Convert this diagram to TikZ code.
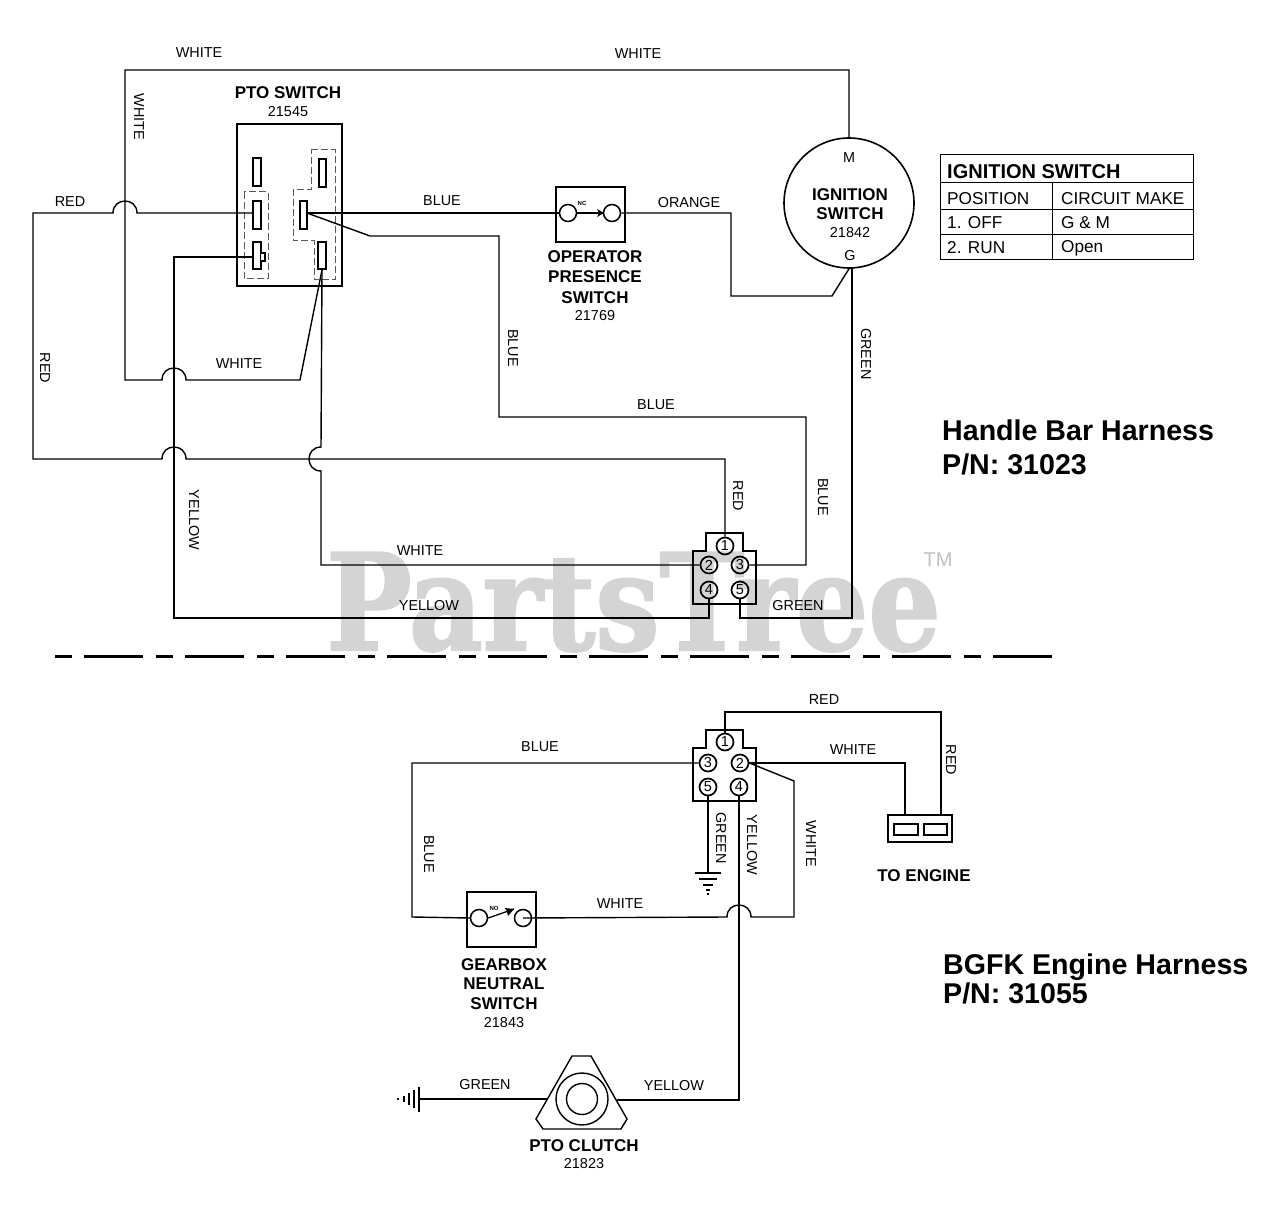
\documentclass[tikz,border=0pt]{standalone}
\usepackage{fontspec}
\setmainfont{Liberation Sans}
\newfontfamily\wmfont{DejaVu Serif}[FakeStretch=0.85,FakeBold=1.5]
\begin{document}
\begin{tikzpicture}[x=1pt,y=-1pt,
  txt/.style={inner sep=0pt,yshift=-1pt,font=\fontsize{14.4}{14.4}\selectfont,text=black},
  vtxt/.style={inner sep=0pt,xshift=1pt,font=\fontsize{14.4}{14.4}\selectfont,text=black,rotate=-90},
  boldt/.style={inner sep=0pt,yshift=-1pt,font=\fontsize{17}{17}\selectfont\bfseries,text=black},
  tabt/.style={inner sep=0pt,yshift=-1pt,anchor=west,font=\fontsize{17.2}{17.2}\selectfont,text=black},
  harness/.style={inner sep=0pt,anchor=base west,font=\fontsize{28.6}{28.6}\selectfont\bfseries},
  wire/.style={line width=1.4pt,line join=miter},
  box/.style={draw,line width=1.6pt,inner sep=0pt,rectangle},
  pin/.style={draw,line width=1.6pt,rectangle,inner sep=0pt,fill=white},
  pnum/.style={draw,circle,line width=1.7pt,minimum size=17pt,inner sep=0pt,font=\fontsize{14.5}{14.5}\selectfont},
  swc/.style={draw,circle,line width=1.5pt,minimum size=17pt,inner sep=0pt},
  dashb/.style={draw=black!65,line width=1pt,dash pattern=on 7pt off 3pt},
  sep/.style={line width=3pt,dash pattern=on 17pt off 12pt on 59pt off 13pt},
]
\useasboundingbox (0,0) rectangle (1280,1206);
% watermark
\node[inner sep=0pt,anchor=base west,text=black!17,font=\fontsize{134}{134}\selectfont\wmfont\bfseries] (wm) at (326,650) {PartsTree};
\node[inner sep=0pt,text=black!25,font=\fontsize{20}{20}\selectfont] (tm) at (938,560) {TM};

% PTO switch
\node[box,minimum width=105pt,minimum height=162pt] (pto) at (289.5,205) {};
\draw[dashb] (244,192) rectangle (268,279);
\draw[dashb] (311,150) -- (335,150) -- (335,280) -- (314,280) -- (314,241) -- (293,241) -- (293,190) -- (311,190) -- cycle;
\node[pin,minimum width=8pt,minimum height=28pt] (pa) at (257,172) {};
\node[pin,minimum width=8pt,minimum height=28pt] (pb) at (257,215) {};
\node[pin,minimum width=8pt,minimum height=27pt] (pc) at (257,255.5) {};
\draw[line width=1.6pt,fill=white] (261,253) -- (265,253) -- (265,261) -- (261,261);
\node[pin,minimum width=7pt,minimum height=28pt] (pd) at (322.5,173) {};
\node[pin,minimum width=7pt,minimum height=28pt] (pe) at (303.5,215) {};
\node[pin,minimum width=8pt,minimum height=27pt] (pf) at (322,255.5) {};
\coordinate (pew) at (307,213);

% operator presence switch
\node[box,minimum width=69pt,minimum height=55pt] (ops) at (590.5,214.5) {};
\node[swc] (opa) at (568,213) {};
\node[swc] (opb) at (612,213) {};
\draw[line width=1.3pt] (opa.east) -- (opb.west);
\fill (604,213) -- (597,209) -- (599,213) -- (597,217) -- cycle;
\node[inner sep=0pt,font=\fontsize{6}{6}\selectfont\bfseries] (opnc) at (582,203) {NC};

% ignition
\node[draw,circle,line width=1.6pt,minimum size=130pt,inner sep=0pt] (ign) at (849,203) {};
\coordinate (ignG) at (852,267);
% upper connector
\draw[line width=1.6pt] (706,533) -- (743,533) -- (743,551) -- (756,551) -- (756,604) -- (693,604) -- (693,551) -- (706,551) -- cycle;
\node[pnum] (u1) at (725,546) {1};
\node[pnum] (u2) at (709,565) {2};
\node[pnum] (u3) at (740,565) {3};
\node[pnum] (u4) at (709,590) {4};
\node[pnum] (u5) at (740,590) {5};

% upper wires
\coordinate (wa) at (849,70); \coordinate (wb) at (125,70); \coordinate (wc) at (125,380);
\coordinate (wd) at (162,380); \coordinate (we) at (186,380); \coordinate (wf) at (300,380);
\draw[wire] (ign.north) -- (wa) -- (wb) -- (wc) -- (wd) .. controls +(0,-16) and +(0,-16) .. (we) -- (wf) -- (pf.south);
\coordinate (wg) at (321,447); \coordinate (wh) at (321,471); \coordinate (wi) at (321,565);
\draw[wire] (pf.south) -- (wg) .. controls +(-16,0) and +(-16,0) .. (wh) -- (wi) -- (u2.west);
\coordinate (ra) at (137,213); \coordinate (rb) at (113,213); \coordinate (rc) at (33,213);
\coordinate (rd) at (33,459); \coordinate (re) at (162,459); \coordinate (rf) at (186,459); \coordinate (rg) at (725,459);
\draw[wire] (pb.west |- ra) -- (ra) .. controls +(0,-16) and +(0,-16) .. (rb) -- (rc) -- (rd) -- (re) .. controls +(0,-16) and +(0,-16) .. (rf) -- (rg) -- (u1.north);
\coordinate (ya) at (174,257); \coordinate (yb) at (174,618); \coordinate (yc) at (709,618);
\draw[wire] (pc.west |- ya) -- (ya) -- (yb) -- (yc) -- (u4.south);
\coordinate (ba) at (370,236); \coordinate (bb) at (499,236); \coordinate (bc) at (499,417); \coordinate (bd) at (806,417); \coordinate (be) at (806,565);
\draw[wire] (pew) -- (opa.west);
\draw[wire] (pew) -- (ba) -- (bb) -- (bc) -- (bd) -- (be) -- (u3.east);
\coordinate (oa) at (731,213); \coordinate (ob) at (731,296); \coordinate (oc) at (832,296);
\draw[wire] (opb.east) -- (oa) -- (ob) -- (oc) -- (ign.south);
\coordinate (ga) at (852,618); \coordinate (gb) at (740,618);
\draw[wire] (ignG) -- (ga) -- (gb) -- (u5.south);

% separator
\coordinate (sa) at (55,656); \coordinate (sb) at (1052,656);
\draw[sep] (sa) -- (sb);

% lower connector
\draw[line width=1.6pt] (706,730) -- (743,730) -- (743,748) -- (756,748) -- (756,801) -- (693,801) -- (693,748) -- (706,748) -- cycle;
\node[pnum] (l1) at (725,742) {1};
\node[pnum] (l3) at (708,763) {3};
\node[pnum] (l2) at (740,763) {2};
\node[pnum] (l5) at (708,787) {5};
\node[pnum] (l4) at (739,787) {4};

% to engine
\node[box,minimum width=64pt,minimum height=27pt] (eng) at (920,828.5) {};
\node[pin,line width=1.2pt,minimum width=24pt,minimum height=11pt] (enga) at (906,829.5) {};
\node[pin,line width=1.2pt,minimum width=23pt,minimum height=11pt] (engb) at (935.5,829.5) {};

% gearbox switch
\node[box,minimum width=69pt,minimum height=55pt] (gbs) at (501.5,919.5) {};
\node[swc] (gba) at (479,918) {};
\node[swc] (gbb) at (523,918) {};
\coordinate (gbt) at (514,909);
\draw[line width=1.3pt] (gba.east) -- (gbt);
\fill (514,909) -- (505,908) -- (507,912) -- (508,916) -- cycle;
\node[inner sep=0pt,font=\fontsize{6}{6}\selectfont\bfseries] (gbno) at (494,908) {NO};

% clutch
\draw[line width=1.4pt] (572,1056) -- (591,1056) -- (627,1119) -- (621,1129) -- (543,1129) -- (536,1119) -- cycle;
\node[draw,circle,line width=1.4pt,minimum size=52pt,inner sep=0pt,fill=white] (clo) at (582,1099) {};
\node[draw,circle,line width=1.4pt,minimum size=31pt,inner sep=0pt] (cli) at (582,1099) {};
\coordinate (cll) at (548,1099); \coordinate (clr) at (617,1100);

% lower wires
\coordinate (la) at (725,712); \coordinate (lb) at (941,712); \coordinate (lc) at (941,815);
\draw[wire] (l1.north) -- (la) -- (lb) -- (lc);
\coordinate (ld) at (905,763); \coordinate (le) at (905,815);
\draw[wire] (l2.east) -- (ld) -- (le);
\coordinate (lf) at (412,763); \coordinate (lg) at (412,917);
\draw[wire] (l3.west) -- (lf) -- (lg) -- (gba.west);
\coordinate (lh) at (794,781); \coordinate (li) at (794,917); \coordinate (lj) at (751,917); \coordinate (lk) at (727,917);
\draw[wire] (l2.east) -- (lh) -- (li) -- (lj) .. controls +(0,-16) and +(0,-16) .. (lk) -- (gbb.center);
\coordinate (lm) at (739,1100);
\draw[wire] (l4.south) -- (lm) -- (clr);
\coordinate (gnd) at (708,873);
\draw[wire] (l5.south) -- (gnd);
\draw[line width=1.3pt] (695,873) -- (721,873) (699,879) -- (717,879) (703,885) -- (713,885) (706,890) -- (710,890);
\draw[line width=1.6pt] (707,894) -- (709,894);
\coordinate (gl) at (419,1099);
\draw[wire] (cll) -- (gl);
\draw[line width=1.3pt] (419,1087) -- (419,1112) (414,1090) -- (414,1108) (409,1093) -- (409,1105) (404,1096) -- (404,1102);
\draw[line width=1.6pt] (398,1098) -- (398,1100);

% table
\node[draw,line width=1pt,minimum width=253pt,minimum height=105pt,inner sep=0pt] (tbl) at (1066.5,207.5) {};
\draw[line width=1pt] (940,183) -- (1193,183) (940,210) -- (1193,210) (940,235) -- (1193,235) (1052,183) -- (1052,260);
\node[inner sep=0pt,yshift=-1pt,anchor=west,font=\fontsize{20}{20}\selectfont\bfseries] (t0) at (947,171) {IGNITION SWITCH};
\node[tabt] (t1) at (947,198) {POSITION};
\node[tabt] (t2) at (1061,198) {CIRCUIT MAKE};
\node[tabt] (t3) at (947,222) {1. OFF};
\node[tabt] (t4) at (1061,222) {G \& M};
\node[tabt] (t5) at (947,247) {2. RUN};
\node[tabt] (t6) at (1061,247) {Open};

% labels
\node[txt] (n1) at (199,52) {WHITE};
\node[txt] (n2) at (638,53) {WHITE};
\node[vtxt] (n3) at (138,117) {WHITE};
\node[txt] (n4) at (70,201) {RED};
\node[txt] (n5) at (442,200) {BLUE};
\node[txt] (n6) at (689,202) {ORANGE};
\node[txt] (n7) at (239,363) {WHITE};
\node[vtxt] (n8) at (44,368) {RED};
\node[vtxt] (n9) at (512,348) {BLUE};
\node[vtxt] (n10) at (865,354) {GREEN};
\node[txt] (n11) at (656,404) {BLUE};
\node[vtxt] (n12) at (737,496) {RED};
\node[vtxt] (n13) at (822,497) {BLUE};
\node[vtxt] (n14) at (193,520) {YELLOW};
\node[txt] (n15) at (420,550) {WHITE};
\node[txt] (n16) at (429,605) {YELLOW};
\node[txt] (n17) at (798,605) {GREEN};
\node[txt] (n18) at (824,699) {RED};
\node[txt] (n19) at (540,746) {BLUE};
\node[txt] (n20) at (853,749) {WHITE};
\node[vtxt] (n21) at (950,760) {RED};
\node[vtxt] (n22) at (720,838) {GREEN};
\node[vtxt] (n23) at (751,845) {YELLOW};
\node[vtxt] (n24) at (810,844) {WHITE};
\node[vtxt] (n25) at (428,854) {BLUE};
\node[txt] (n26) at (620,903) {WHITE};
\node[txt] (n27) at (485,1084) {GREEN};
\node[txt] (n28) at (674,1085) {YELLOW};

\node[boldt] (c1) at (288,92) {PTO SWITCH};
\node[txt] (c2) at (288,111) {21545};
\node[boldt] (c3) at (595,256) {OPERATOR};
\node[boldt] (c4) at (595,276) {PRESENCE};
\node[boldt] (c5) at (595,297) {SWITCH};
\node[txt] (c6) at (595,315) {21769};
\node[txt] (c7) at (849,157) {M};
\node[boldt] (c8) at (850,194) {IGNITION};
\node[boldt] (c9) at (850,213) {SWITCH};
\node[txt] (c10) at (850,232) {21842};
\node[txt] (c11) at (850,255) {G};
\node[boldt] (c12) at (924,875) {TO ENGINE};
\node[boldt] (c13) at (504,964) {GEARBOX};
\node[boldt] (c14) at (504,983) {NEUTRAL};
\node[boldt] (c15) at (504,1003) {SWITCH};
\node[txt] (c16) at (504,1022) {21843};
\node[boldt] (c17) at (584,1145) {PTO CLUTCH};
\node[txt] (c18) at (584,1163) {21823};

\node[harness] (h1) at (942,440) {Handle Bar Harness};
\node[harness] (h2) at (942,474) {P/N: 31023};
\node[harness] (h3) at (943,974) {BGFK Engine Harness};
\node[harness] (h4) at (943,1003) {P/N: 31055};
\end{tikzpicture}
\end{document}
